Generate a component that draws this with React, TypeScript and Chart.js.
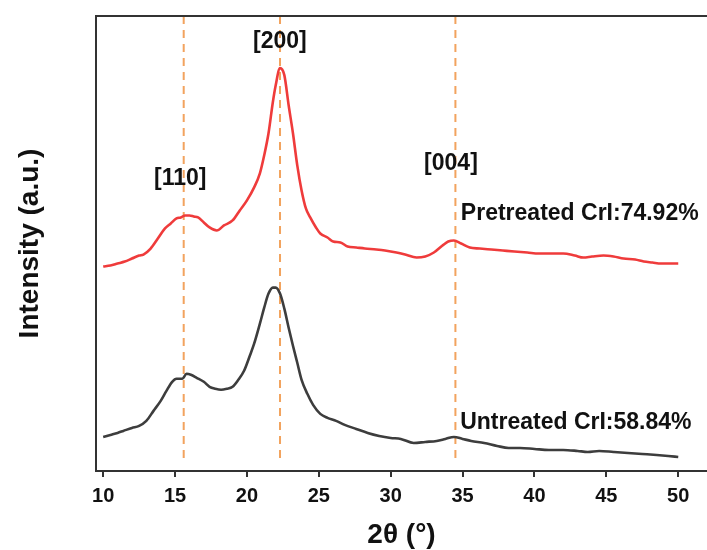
import React, { useEffect, useRef } from "react";
import { Chart, registerables } from "chart.js";

Chart.register(...registerables);

// ---- Data (2θ in degrees, intensity in arbitrary units) ----
const TWO_THETA_PRE = [
  10, 10.5, 11, 11.5, 12, 12.5, 12.8, 13.3, 13.8, 14.3, 14.7, 15.1, 15.4, 15.7, 16.0, 16.3, 16.6, 17.0, 17.4, 17.9,
  18.4, 19.0, 19.5, 20.0, 20.5, 20.9, 21.2, 21.5, 21.8, 22.0, 22.3, 22.6, 22.9, 23.2, 23.5, 23.8, 24.1, 24.4, 24.8,
  25.1, 25.6, 26.0, 26.5, 27.0, 27.6, 28.2, 29.0, 29.6, 30.4, 31.0, 31.8, 32.4, 33.0, 33.6, 34.0, 34.4, 34.9, 35.5,
  36.2, 37.0, 37.8, 38.6, 39.5, 40.3, 41.0, 42.0, 42.8, 43.4, 44.0, 44.8, 45.5, 46.2, 47.0, 47.6, 48.2, 48.8, 49.4, 50,
];
const INTENSITY_PRE = [
  204, 205, 207, 209, 212, 215, 216, 222, 232, 242, 247, 252, 253, 255, 255, 254, 253, 248, 243, 240,
  245, 250, 260, 270, 283, 297, 315, 337, 368, 385, 402, 395, 365, 337, 305, 280, 262, 253, 243,
  237, 233, 229, 228, 224, 223, 222, 221, 220, 218, 216, 213, 214, 218, 225, 229, 230, 227, 223,
  222, 221, 220, 219, 218, 217, 217, 217, 215, 213, 214, 215, 214, 212, 211, 209, 208, 207, 207, 207,
];

const TWO_THETA_UN = [
  10, 10.5, 11, 11.4, 12, 12.5, 13, 13.5, 14, 14.4, 14.8, 15.1, 15.5, 15.8, 16.1, 16.5, 17.0, 17.4, 17.8, 18.2,
  18.6, 19.0, 19.4, 19.8, 20.2, 20.5, 20.9, 21.2, 21.5, 21.8, 22.0, 22.3, 22.6, 22.9, 23.2, 23.5, 23.8, 24.2, 24.6,
  25.1, 25.6, 26.2, 26.8, 27.6, 28.4, 29.2, 30.0, 30.7, 31.6, 32.4, 33.2, 33.8, 34.4, 35.0, 35.6, 36.5, 37.4, 38.2,
  39.0, 40.0, 41.0, 42.0, 43.0, 43.7, 44.5, 45.5, 46.5, 47.5, 48.5, 49.3, 50,
];
const INTENSITY_UN = [
  34, 36, 38, 40, 43, 45, 50, 60, 70, 80, 89, 92, 92, 97, 96, 93, 89, 84, 82, 81,
  82, 84, 91, 100, 115, 127, 147, 163, 177, 183, 183, 177, 162, 143, 125, 108, 91, 77, 66,
  57, 53, 50, 46, 42, 38, 35, 33, 32, 28, 29, 30, 32, 34, 32, 30, 28, 25, 23,
  23, 22, 21, 21, 20, 19, 20, 19, 18, 17, 16, 15, 14,
];

const X_TICKS = [10, 15, 20, 25, 30, 35, 40, 45, 50];
const PEAK_POSITIONS = [15.6, 22.3, 34.5];
const PEAK_LABELS = ["[110]", "[200]", "[004]"];
const PEAK_LABEL_X = [15.36, 22.29, 34.19];
const PEAK_LABEL_Y = [292, 428, 307];
const SERIES_LABELS = ["Pretreated CrI:74.92%", "Untreated CrI:58.84%"];
const SERIES_LABEL_X = [34.88, 34.83];
const SERIES_LABEL_Y = [257, 48.5];

const FONT = "'Liberation Sans', Arial, Helvetica, sans-serif";

export default function App() {
  const ref = useRef<HTMLCanvasElement | null>(null);

  useEffect(() => {
    if (!ref.current) return;

    const textPlugin = {
      id: "xrdText",
      afterDatasetsDraw(chart: any) {
        const { ctx, scales, chartArea } = chart;
        const xs = scales.x;
        const ys = scales.y;
        ctx.save();
        // top frame line
        ctx.strokeStyle = "#333";
        ctx.lineWidth = 2;
        ctx.beginPath();
        ctx.moveTo(chartArea.left, chartArea.top);
        ctx.lineTo(chartArea.right, chartArea.top);
        ctx.stroke();

        ctx.fillStyle = "#111";
        ctx.font = `bold 23px ${FONT}`;
        ctx.textBaseline = "middle";
        ctx.textAlign = "center";
        PEAK_LABELS.forEach((t, i) => {
          ctx.fillText(t, xs.getPixelForValue(PEAK_LABEL_X[i]), ys.getPixelForValue(PEAK_LABEL_Y[i]));
        });
        ctx.textAlign = "left";
        SERIES_LABELS.forEach((t, i) => {
          ctx.fillText(t, xs.getPixelForValue(SERIES_LABEL_X[i]), ys.getPixelForValue(SERIES_LABEL_Y[i]));
        });
        ctx.restore();
      },
    };

    const peakDatasets = PEAK_POSITIONS.map((p) => ({
      label: "peak",
      data: [
        { x: p, y: 454 },
        { x: p, y: 11 },
      ],
      borderColor: "#f2a35e",
      borderWidth: 2,
      borderDash: [8, 6],
      pointRadius: 0,
      order: 2,
    }));

    const chart = new Chart(ref.current, {
      type: "line",
      data: {
        datasets: [
          {
            label: "Pretreated",
            data: TWO_THETA_PRE.map((x, i) => ({ x, y: INTENSITY_PRE[i] })),
            borderColor: "#ef3b3b",
            borderWidth: 2.6,
            pointRadius: 0,
            cubicInterpolationMode: "monotone",
            order: 1,
          },
          {
            label: "Untreated",
            data: TWO_THETA_UN.map((x, i) => ({ x, y: INTENSITY_UN[i] })),
            borderColor: "#3d3d3d",
            borderWidth: 2.6,
            pointRadius: 0,
            cubicInterpolationMode: "monotone",
            order: 1,
          },
          ...peakDatasets,
        ],
      },
      options: {
        animation: false,
        responsive: true,
        maintainAspectRatio: false,
        layout: { padding: { top: 16, left: 0, right: 0, bottom: 0 } },
        plugins: { legend: { display: false }, tooltip: { enabled: false } },
        scales: {
          x: {
            type: "linear",
            min: 9.5,
            max: 52,
            afterBuildTicks: (scale: any) => {
              scale.ticks = X_TICKS.map((v) => ({ value: v }));
            },
            grid: {
              display: true,
              drawOnChartArea: false,
              drawTicks: true,
              tickLength: 6,
              color: "#333",
              lineWidth: 2,
            },
            border: { display: true, color: "#333", width: 2 },
            ticks: {
              color: "#111",
              padding: 7,
              maxRotation: 0,
              font: { family: FONT, size: 20, weight: "bold", lineHeight: 1.2 },
            },
            title: {
              display: true,
              text: "2θ (°)",
              color: "#111",
              font: { family: FONT, size: 28, weight: "bold", lineHeight: 1 },
              padding: { top: 6, bottom: 1 },
            },
          },
          y: {
            type: "linear",
            min: 0,
            max: 454,
            grid: { display: false, drawTicks: false, tickLength: 0 },
            border: { display: true, color: "#333", width: 2 },
            ticks: { display: false },
            title: {
              display: true,
              text: "Intensity (a.u.)",
              color: "#111",
              font: { family: FONT, size: 28, weight: "bold", lineHeight: 1 },
              padding: { top: 16, bottom: 52 },
            },
          },
        },
      },
      plugins: [textPlugin],
    });

    return () => chart.destroy();
  }, []);

  return (
    <div style={{ position: "absolute", left: 0, top: 0, width: 707, height: 550, background: "#fff" }}>
      <canvas ref={ref} />
    </div>
  );
}
